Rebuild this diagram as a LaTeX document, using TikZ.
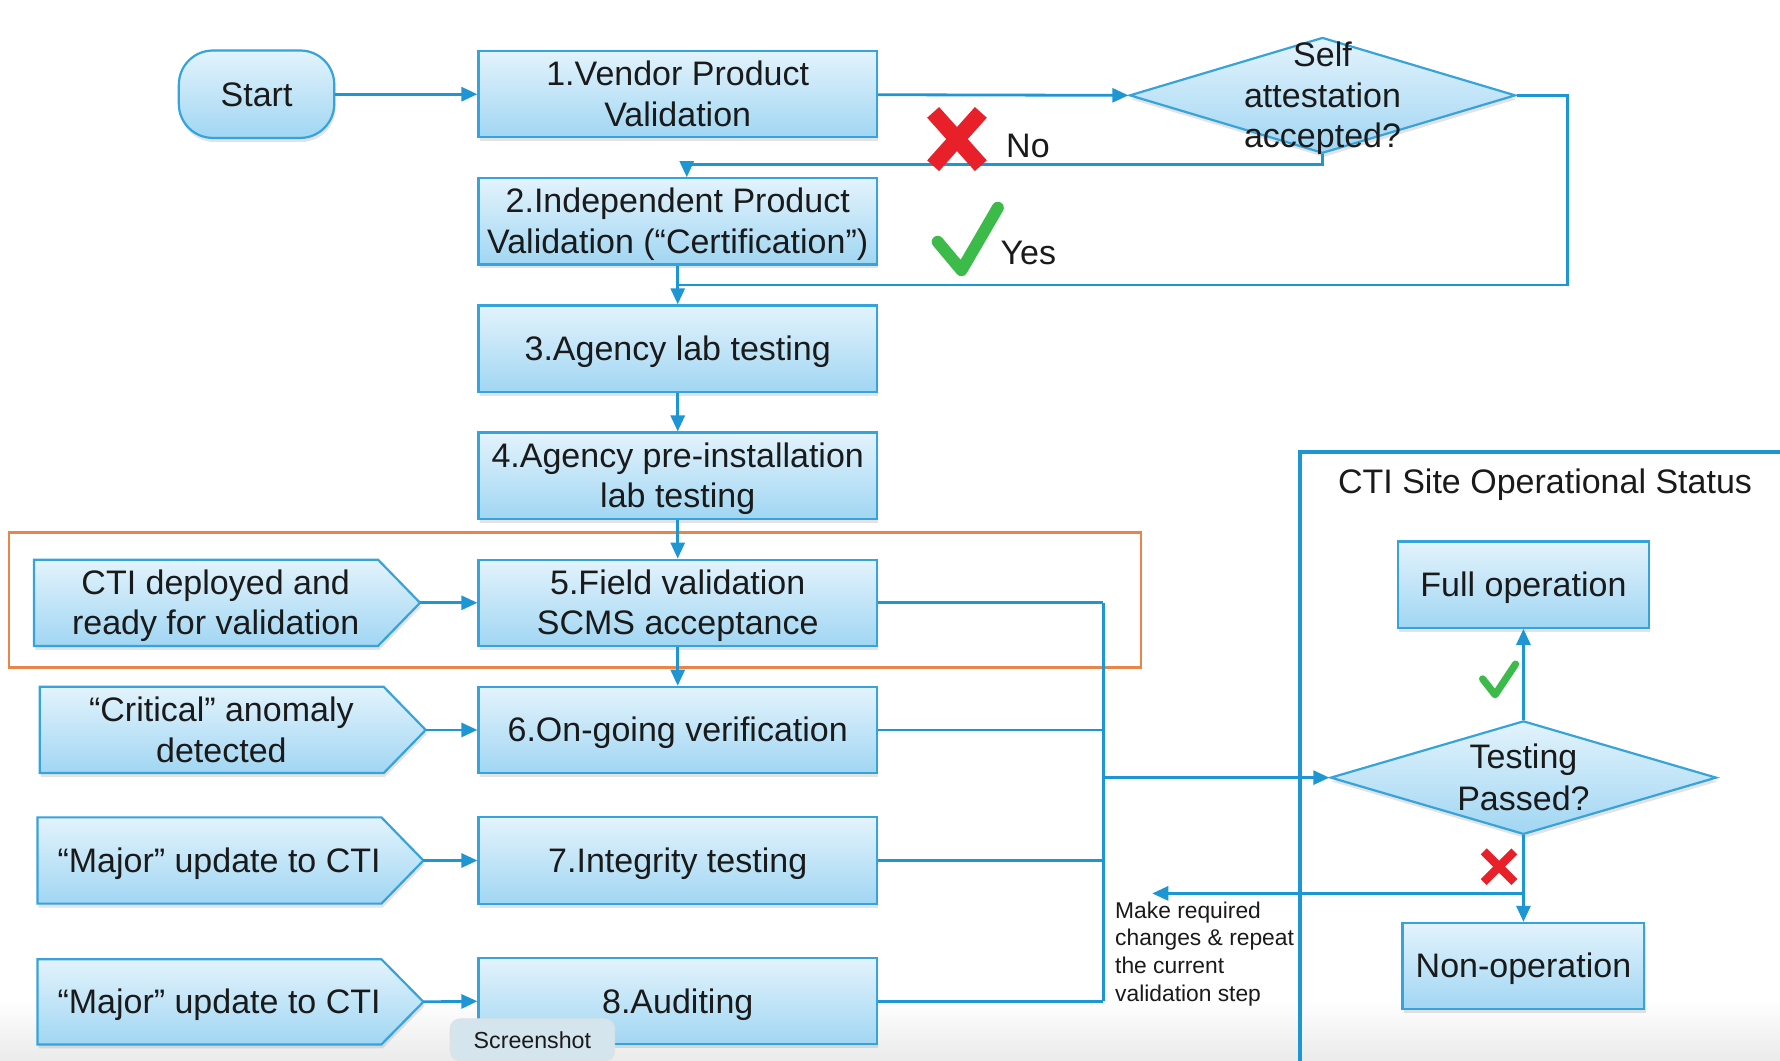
\documentclass[tikz,border=0pt]{standalone}
\usepackage{fontspec}
\setmainfont{Liberation Sans}
\usetikzlibrary{arrows.meta,shapes.geometric,shadows}

\definecolor{boxtop}{HTML}{E3F3FC}
\definecolor{boxbot}{HTML}{A1D6F3}
\definecolor{boxline}{HTML}{36A3DB}
\definecolor{flow}{HTML}{1D96D3}
\definecolor{frameorange}{HTML}{E8864A}
\definecolor{txt}{HTML}{1A1A1A}
\definecolor{xred}{HTML}{E8202A}
\definecolor{okgreen}{HTML}{3DBB4A}
\definecolor{tagfill}{HTML}{D4E5EE}

% full-height strut for the first line of a multi-line label
\newcommand\capstrut{\rule{0pt}{0.905em}}

\tikzset{
  linestrut/.style={execute at begin node={\rule{0pt}{0.905em}},
    execute at end node={\rule[-0.212em]{0pt}{0pt}}},
  bigtext/.style={font=\fontsize{17}{20.4}\selectfont, text=txt, align=center, linestrut},
  boxshade/.style={top color=boxtop, bottom color=boxbot, draw=boxline, line width=1.1pt,
    drop shadow={opacity=0.22, shadow xshift=0.6pt, shadow yshift=-2pt}},
  stepbox/.style={boxshade, bigtext, rectangle, inner sep=0pt,
    minimum width=199.2pt, minimum height=43.1pt},
  startbox/.style={boxshade, bigtext, rectangle, rounded corners=17pt, inner sep=0pt,
    minimum width=77.7pt, minimum height=43.7pt},
  decision/.style={boxshade, diamond, inner sep=0pt, minimum width=193pt},
  statebox/.style={boxshade, bigtext, rectangle, inner sep=0pt, minimum height=43.1pt},
  pentshape/.style={boxshade},
  flowline/.style={draw=flow, line width=1.4pt},
  flowarrow/.style={flowline, -{Triangle[length=8pt, width=7pt]}},
}

\begin{document}
\begin{tikzpicture}[x=0.5675pt, y=-0.5675pt]
\useasboundingbox (0,0) rectangle (1568,934);
\fill[white] (0,0) rectangle (1568,934);
\shade[top color=white, bottom color=black!8] (0,880) rectangle (1568,934);

% highlighted field-validation band
\draw[frameorange, line width=1.2pt] (8,469) rectangle (1005,588);

% CTI site status frame
\draw[flow, line width=2.2pt] (1575,398) -- (1145,398) -- (1145,945);
\node[bigtext] (sitetitle) at (1361,424) {CTI Site Operational Status};

% main validation steps
\node[startbox] (start) at (226,83) {Start};
\node[stepbox] (b1) at (597,83) {\capstrut 1.Vendor Product\\Validation};
\node[stepbox] (b2) at (597,195) {\capstrut 2.Independent Product\\Validation (“Certification”)};
\node[stepbox] (b3) at (597,307) {3.Agency lab testing};
\node[stepbox] (b4) at (597,419) {\capstrut 4.Agency pre-installation\\lab testing};
\node[stepbox] (b5) at (597,531) {\capstrut 5.Field validation\\SCMS acceptance};
\node[stepbox] (b6) at (597,643) {6.On-going verification};
\node[stepbox] (b7) at (597,758) {7.Integrity testing};
\node[stepbox] (b8) at (597,882) {8.Auditing};

% trigger events (pointed boxes)
\newcommand\trigger[6]{%
  \path[pentshape] (#2,#3) -- (#4,#3) -- (#5,{(#3+#6)/2}) -- (#4,#6) -- (#2,#6) -- cycle;
  \coordinate (#1tip) at (#5,{(#3+#6)/2});
}
\trigger{p5}{30}{493}{333}{370}{569}
\node[bigtext] (p5) at (190,531) {\capstrut CTI deployed and\\ready for validation};
\trigger{p6}{35}{605}{338}{375}{681}
\node[bigtext] (p6) at (195,643) {\capstrut “Critical” anomaly\\detected};
\trigger{p7}{33}{720}{336}{373}{796}
\node[bigtext] (p7) at (193,758) {“Major” update to CTI};
\trigger{p8}{33}{845}{336}{373}{920}
\node[bigtext] (p8) at (193,882) {“Major” update to CTI};

% decisions
\node[decision, minimum height=57.9pt] (d1) at (1165,84) {};
\node[bigtext] (d1text) at (d1) {\capstrut Self\\attestation\\accepted?};
\node[decision, minimum height=56.75pt] (tp) at (1342,685) {};
\node[bigtext, font=\fontsize{17}{21}\selectfont] (tptext) at (tp) {\capstrut Testing\\Passed?};

% site states
\node[statebox, minimum width=125.4pt] (full) at (1342,515) {Full operation};
\node[statebox, minimum width=120.9pt] (nonop) at (1342,851) {Non-operation};

% junction points
\coordinate (nojoin) at (605,145);
\coordinate (yesturn) at (1381,251);
\coordinate (busx) at (972,531);
\coordinate (retjoin) at (1342,787);
\coordinate (retend) at (1015,787);

% connectors of the validation chain
\draw[flowarrow] (start) -- (b1);
\draw[flowarrow] (b1) -- (d1.west);
\draw[flowarrow] (d1.south) |- (nojoin) -- (b2.north -| nojoin);
\draw[flowarrow] (d1.east) -| (yesturn) -| (b3.north);
\draw[flowline] (b2.south) -- (b2.south |- yesturn);
\draw[flowarrow] (b3) -- (b4);
\draw[flowarrow] (b4) -- (b5);
\draw[flowarrow] (b5) -- (b6);
\draw[flowarrow] (p5tip) -- (b5.west);
\draw[flowarrow] (p6tip) -- (b6.west);
\draw[flowarrow] (p7tip) -- (b7.west);
\draw[flowarrow] (p8tip) -- (b8.west);

% results bus to the site status check
\draw[flowline] (b5.east) -- (b5.east -| busx);
\draw[flowline] (b6.east) -- (b6.east -| busx);
\draw[flowline] (b7.east) -- (b7.east -| busx);
\draw[flowline] (b8.east) -- (b8.east -| busx);
\draw[flowline] (b5.east -| busx) -- (b8.east -| busx);
\draw[flowarrow] (tp.west -| busx) -- (tp.west);

% outcomes of the check
\draw[flowarrow] (tp.north) -- (full.south);
\draw[flowarrow] (tp.south) -- (nonop.north);
\draw[flowarrow] (retjoin) -- (retend);
\node[font=\fontsize{11.4}{13.8}\selectfont, text=txt, align=left, anchor=north west, inner sep=0pt]
  (retnote) at (982,794) {Make required\\changes \& repeat\\the current\\validation step};

% yes / no marks
\draw[xred, line width=8pt] (822,99) -- (864,146) (864,99) -- (822,146);
\node[bigtext, anchor=west, inner sep=0pt] (nolabel) at (886,128) {No};
\draw[okgreen, line width=6pt, line cap=round, line join=round] (826,213) -- (847,238) -- (879,183);
\node[bigtext, anchor=west, inner sep=0pt] (yeslabel) at (881,223) {Yes};
\draw[okgreen, line width=3.6pt, line cap=round, line join=round] (1306,598) -- (1317,612) -- (1335,585);
\draw[xred, line width=4.2pt] (1307,750) -- (1334,777) (1334,750) -- (1307,777);

% viewer tag
\node[fill=tagfill, draw=black!12, rounded corners=5pt, minimum width=82.3pt, minimum height=21pt,
  inner sep=0pt, font=\fontsize{11.6}{13}\selectfont, text=txt] (tag) at (469,916) {Screenshot};
\end{tikzpicture}
\end{document}
